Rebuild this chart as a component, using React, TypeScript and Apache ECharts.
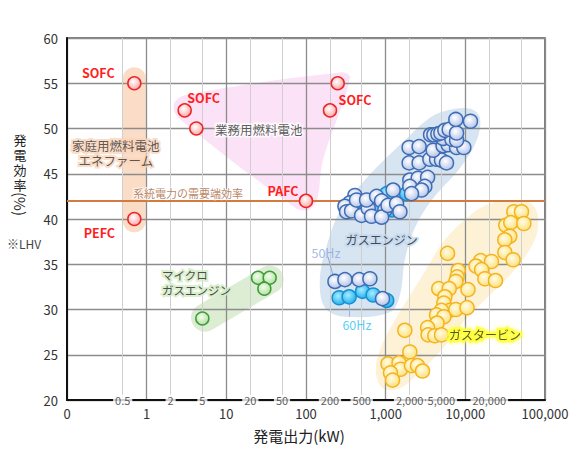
import React, { useEffect, useRef } from 'react';
import * as echarts from 'echarts';

const FONT = '"Noto Sans CJK JP", "Noto Sans", sans-serif';

// Axis ticks
const xTickLabels = ['0', '1', '10', '100', '1,000', '10,000', '100,000'];
const minorGridValues = [0.5, 2, 5, 20, 50, 200, 500, 2000, 5000, 20000, 50000];
const minorTickValues = [0.5, 2, 5, 20, 50, 200, 500, 2000, 5000, 20000];
const minorTickLabels = ['0.5', '2', '5', '20', '50', '200', '500', '2,000', '5,000', '20,000'];

// Vertical axis title, stacked character by character
const yTitleChars = ['発', '電', '効', '率'];

// Demand-side efficiency of grid electricity (%)
const gridDemandEfficiency = 42;

// Fuel cells: [output kW, efficiency %]
const homeFuelCells = [[0.7, 55], [0.7, 40]];
const homeFuelCellTypes = ['SOFC', 'PEFC'];
const commercialFuelCells = [[3, 52], [4.2, 50], [100, 42], [250, 55], [200, 52]];
const commercialFuelCellTypes = ['SOFC', '', 'PAFC', '', 'SOFC'];

// Micro gas engines
const microGasEngines = [[5, 29], [25, 33.5], [35, 33.5], [30, 32.3]];

// Gas engines, 60Hz models
const gasEngines60 = [
  [474, 41.5], [733, 41.4], [548, 40.8], [1200, 41.0], [1030, 42.8], [1830, 42.8],
  [261, 31.3], [348, 31.4], [513, 32.0], [697, 31.6], [1030, 31.0],
];

// Gas engines, 50Hz models
const gasEngines50 = [
  [411, 42.6], [356, 41.8], [308, 41.4], [323, 40.8], [373, 40.9], [431, 42.1],
  [499, 40.4], [603, 41.2], [576, 42.1], [665, 40.3], [769, 42.5], [889, 42.0],
  [977, 41.0], [889, 40.2], [1070, 41.5], [1240, 43.2], [1370, 41.7], [1510, 40.8],
  [2010, 44.3], [2560, 44.5], [3360, 44.6], [2010, 43.6], [3100, 43.6], [2820, 43.2], [2110, 42.8],
  [1970, 46.2], [2630, 46.2], [3590, 46.6], [4350, 46.6], [5020, 46.5], [5800, 46.2],
  [1970, 47.9], [2630, 48.0], [3950, 47.6], [5260, 48.1], [6080, 48.2], [7760, 47.9], [9570, 47.9],
  [5260, 48.9], [6770, 48.8], [7760, 48.7],
  [3660, 49.3], [4030, 49.3], [4520, 49.4], [4930, 49.5], [5530, 49.8], [6270, 49.9], [7760, 49.5],
  [7600, 51.0], [11600, 50.8],
  [231, 33.1], [308, 33.3], [465, 33.3], [634, 33.4], [914, 31.2],
];

// Gas turbines
const gasTurbines = [
  [40600, 40.8], [50700, 40.8], [32200, 39.3], [37200, 39.6], [54200, 39.5], [36100, 38.1],
  [31300, 37.7], [31300, 36.3], [39800, 35.5], [5980, 36.2], [15600, 35.4], [21300, 35.3],
  [13600, 34.8], [16000, 34.4], [17600, 33.4], [23900, 33.2], [8130, 34.3], [7890, 33.6],
  [7600, 33.1], [4640, 32.3], [6270, 32.3], [10800, 32.2], [5530, 31.4], [5370, 30.7],
  [6380, 29.9], [7600, 30.0], [10500, 30.2], [5020, 29.9], [4350, 29.4], [5370, 29.2],
  [4420, 28.5], [3360, 28.0], [1740, 27.7], [3410, 27.2], [4140, 27.1], [5020, 27.2],
  [2010, 25.3], [1070, 24.0], [1470, 24.1], [1540, 23.4], [1150, 23.0], [1220, 22.2],
  [2110, 23.8], [2510, 23.8], [2900, 23.2],
];

// Group envelopes in (kW, %) space
const homeBand = [[0.7, 55.5], [0.7, 39.8]];
const microBand = [[5.4, 29.1], [35, 33.3]];
const commercialOutline = [
  [2.2, 52.7], [3.1, 53.7], [266, 56.2], [356, 55.6], [163, 46.5], [137, 42.1],
  [106, 41.0], [75, 41.2], [2.5, 51.2],
];
const gasEngineOutline = [
  [5860, 52.0], [11400, 52.2], [15200, 51.2], [13900, 48.7], [8530, 45.6], [3800, 42.1],
  [2320, 39.0], [1740, 35.5], [1510, 31.6], [1130, 29.7], [308, 29.2], [173, 30.2],
  [149, 33.3], [183, 37.1], [266, 40.8], [548, 44.3], [1510, 48.2], [3590, 51.2],
];
const gasTurbineOutline = [
  [36100, 42.1], [64400, 41.8], [81300, 40.4], [74500, 37.7], [41800, 34.4], [20300, 31.6],
  [9860, 28.8], [5220, 25.7], [2690, 23.1], [1510, 21.3], [923, 21.3], [753, 23.1],
  [845, 25.5], [1300, 28.8], [2690, 33.3], [5530, 37.7], [11400, 40.4], [20300, 41.7],
];

// Annotation texts anchored in (kW, %) space
const regionLabels = [
  { text: '家庭用燃料電池\nエネファーム', at: [0.41, 47.3], kind: 'home' },
  { text: '業務用燃料電池', at: [25.6, 49.9], kind: 'commercial' },
  { text: '系統電力の需要端効率', at: [3.3, 42.9], kind: 'demand' },
  { text: 'マイクロ\nガスエンジン', at: [1.56, 33.0], kind: 'micro' },
  { text: 'ガスエンジン', at: [896, 37.7], kind: 'engine' },
  { text: 'ガスタービン', at: [17600, 27.2], kind: 'turbine' },
  { text: '50Hz', at: [178, 36.35], kind: 'hz50' },
  { text: '60Hz', at: [435, 28.3], kind: 'hz60' },
];

// Leader lines from labels to marks
const leaderLines = [
  { from: [4.2, 50], to: [6.6, 50], color: '#888888' },
  { from: [189, 35.8], to: [228, 33.2], color: '#8ea6d8' },
  { from: [352, 31.2], to: [352, 29.2], color: '#9fb6d8' },
];

const labelStyles: Record<string, any> = {
  home: { color: '#333', fontSize: 12.5, lineHeight: 15, textBorderColor: '#fad5bb', textBorderWidth: 4 },
  commercial: { color: '#333', fontSize: 12.5, textBorderColor: '#ffffff', textBorderWidth: 3 },
  demand: { color: '#a8653c', fontSize: 11, textBorderColor: '#ffffff', textBorderWidth: 2 },
  micro: { color: '#222', fontSize: 11.5, lineHeight: 15, align: 'left', textBorderColor: '#d3ecc5', textBorderWidth: 4 },
  engine: { color: '#222', fontSize: 12, textBorderColor: '#c3d8ef', textBorderWidth: 4 },
  turbine: { color: '#222', fontSize: 12, textBorderColor: '#ffff30', textBorderWidth: 5, textShadowColor: '#ffff60', textShadowBlur: 4 },
  hz50: { color: '#8ea6d8', fontSize: 12.5 },
  hz60: { color: '#2ebff2', fontSize: 12.5 },
};

const homeLabelOffsets = [[-36, -11], [-35, 13]];
const commercialLabelOffsets = [[19, -13], [0, 0], [-23, -10], [0, 0], [25, -11]];

function ball(inner: string, outer: string, border: string) {
  return {
    color: {
      type: 'radial', x: 0.42, y: 0.38, r: 0.65,
      colorStops: [{ offset: 0, color: inner }, { offset: 1, color: outer }],
    },
    borderColor: border,
    borderWidth: 1.5,
    opacity: 1,
  };
}

const blobs = [
  { outline: homeBand, color: '#fbdcc6', capsule: 23 },
  { outline: microBand, color: '#dcedd3', capsule: 28 },
  { outline: commercialOutline, color: '#fbe2f7', capsule: 0 },
  { outline: gasEngineOutline, color: '#d7e5f3', capsule: 0 },
  { outline: gasTurbineOutline, color: '#fdf2d6', capsule: 0 },
];

export default function App() {
  const ref = useRef<HTMLDivElement>(null);

  useEffect(() => {
    if (!ref.current) return;
    const chart = echarts.init(ref.current, undefined, { renderer: 'svg' });

    const yTitle = yTitleChars.map((ch, i) => ({
      type: 'text', x: 20, y: 139 + i * 15, silent: true,
      style: {
        text: ch, font: `13px ${FONT}`, fill: '#222',
        align: 'center', verticalAlign: 'middle', lineHeight: 13,
      },
    }));

    const option: any = {
      animation: false,
      backgroundColor: '#ffffff',
      textStyle: { fontFamily: FONT },
      grid: {
        left: 67, right: 33, top: 38, bottom: 53,
        show: true, borderColor: '#555', borderWidth: 1.5, backgroundColor: 'transparent',
      },
      xAxis: {
        type: 'log', logBase: 10, min: 0.1, max: 100000, splitNumber: 6,
        axisLine: { show: true, onZero: false, lineStyle: { color: '#111', width: 2 } },
        axisTick: { show: false },
        axisLabel: {
          color: '#333', fontSize: 13, margin: 7, fontFamily: FONT,
          showMinLabel: true, showMaxLabel: true,
          formatter: (v: number) => xTickLabels[Math.round(Math.log10(v)) + 1] ?? '',
        },
        splitLine: { show: true, lineStyle: { color: '#8c8c8c', width: 1.3 } },
        name: '発電出力(kW)', nameLocation: 'middle', nameGap: 28,
        nameTextStyle: { fontSize: 15, color: '#222', fontFamily: FONT, padding: [0, 14, 0, 0] },
      },
      yAxis: {
        type: 'value', min: 20, max: 60, interval: 5,
        axisLine: { show: true, onZero: false, lineStyle: { color: '#111', width: 2 } },
        axisTick: { show: false },
        axisLabel: { color: '#333', fontSize: 13, margin: 9, fontFamily: FONT },
        splitLine: { show: true, lineStyle: { color: '#8c8c8c', width: 1.3 } },
      },
      graphic: [
        ...yTitle,
        {
          type: 'text', x: 20, y: 204, rotation: -Math.PI / 2, silent: true,
          style: { text: '(%)', font: `15px ${FONT}`, fill: '#222', align: 'center', verticalAlign: 'middle' },
        },
        {
          type: 'text', left: 7, top: 237, silent: true,
          style: { text: '※LHV', font: `12px ${FONT}`, fill: '#444' },
        },
      ],
      series: [
        // group envelopes, under the grid lines
        {
          type: 'custom', z: -1, silent: true, clip: false,
          data: blobs.map(() => [1, 40]),
          renderItem: (params: any, api: any) => {
            const b = blobs[params.dataIndex];
            const pts = b.outline.map((p) => api.coord(p));
            if (b.capsule) {
              return {
                type: 'polyline',
                shape: { points: pts },
                style: { stroke: b.color, lineWidth: b.capsule, lineCap: 'round', fill: null },
              };
            }
            return {
              type: 'polygon',
              shape: { points: pts, smooth: 0.35 },
              style: { fill: b.color },
            };
          },
        },
        // minor grid lines
        {
          type: 'scatter', data: [], silent: true,
          markLine: {
            silent: true, z: 0, symbol: 'none', animation: false,
            label: { show: false },
            lineStyle: { color: '#cfcfcf', width: 1, type: 'solid' },
            data: minorGridValues.map((v) => ({ xAxis: v })),
          },
        },
        // grid demand efficiency line
        {
          type: 'scatter', data: [], silent: true,
          markLine: {
            silent: true, z: 1, symbol: 'none', animation: false,
            label: { show: false },
            lineStyle: { color: '#d27b40', width: 2, type: 'solid' },
            data: [{ yAxis: gridDemandEfficiency }],
          },
        },
        // leader lines
        {
          type: 'scatter', data: [], silent: true,
          markLine: {
            silent: true, z: 1, symbol: 'none', animation: false,
            label: { show: false },
            data: leaderLines.map((l) => [
              { coord: l.from, lineStyle: { color: l.color, width: 1, type: 'solid' } },
              { coord: l.to },
            ]),
          },
        },
        // marks
        {
          type: 'scatter', name: 'micro', symbolSize: 13, z: 3, silent: true,
          itemStyle: ball('#f3fdee', '#b2df9e', '#3c9e38'),
          data: microGasEngines,
        },
        {
          type: 'scatter', name: '60Hz', symbolSize: 14, z: 3, silent: true,
          itemStyle: ball('#a8ecff', '#1cb0ef', '#188fd0'),
          data: gasEngines60,
        },
        {
          type: 'scatter', name: '50Hz', symbolSize: 14, z: 3, silent: true,
          itemStyle: ball('#ffffff', '#b2c2e8', '#3e6db4'),
          data: gasEngines50,
        },
        {
          type: 'scatter', name: 'turbine', symbolSize: 14, z: 3, silent: true,
          itemStyle: ball('#fffce6', '#ffe07a', '#f4b420'),
          data: gasTurbines,
        },
        {
          type: 'scatter', name: 'fuelcell', symbolSize: 13, z: 3, silent: true,
          itemStyle: ball('#ffffff', '#ffa4a4', '#ec2626'),
          label: { show: false },
          data: [
            ...homeFuelCells.map((p, i) => ({
              value: p,
              label: {
                show: !!homeFuelCellTypes[i], formatter: homeFuelCellTypes[i], position: 'inside',
                offset: homeLabelOffsets[i], color: '#ff1f1f', fontSize: 12.5, fontWeight: 'bold', fontFamily: FONT,
              },
            })),
            ...commercialFuelCells.map((p, i) => ({
              value: p,
              label: {
                show: !!commercialFuelCellTypes[i], formatter: commercialFuelCellTypes[i], position: 'inside',
                offset: commercialLabelOffsets[i], color: '#ff1f1f', fontSize: 12.5, fontWeight: 'bold', fontFamily: FONT,
              },
            })),
          ],
        },
        // annotation texts
        {
          type: 'scatter', symbolSize: 0, z: 5, silent: true, clip: false,
          data: regionLabels.map((r) => ({
            value: r.at,
            label: {
              show: true, position: 'inside', formatter: r.text, fontFamily: FONT,
              ...labelStyles[r.kind],
            },
          })),
        },
        // minor tick labels sitting on the x axis line
        {
          type: 'scatter', symbolSize: 0, z: 5, silent: true, clip: false,
          data: minorTickValues.map((v, i) => ({
            value: [v, 20],
            label: {
              show: true, position: 'inside', formatter: minorTickLabels[i],
              fontSize: 11, color: '#333', fontFamily: FONT,
              backgroundColor: '#ffffff', padding: [0, 2],
            },
          })),
        },
      ],
    };

    chart.setOption(option);
    return () => chart.dispose();
  }, []);

  return (
    <div
      ref={ref}
      style={{ position: 'absolute', left: 0, top: 0, width: 578, height: 453 }}
    />
  );
}
